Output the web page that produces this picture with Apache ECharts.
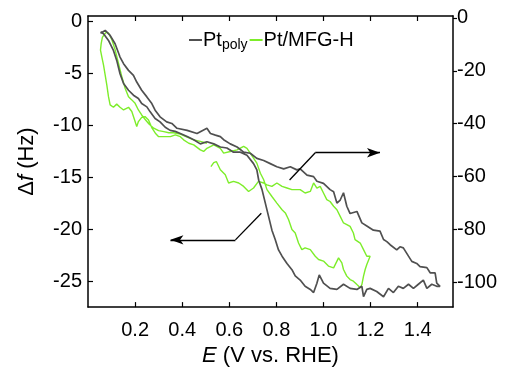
<!DOCTYPE html>
<html>
<head>
<meta charset="utf-8">
<script src="https://cdn.jsdelivr.net/npm/echarts@6/dist/echarts.min.js"></script>
<style>
html,body{margin:0;padding:0;background:#fff;}
#c{width:506px;height:372px;}
</style>
</head>
<body>
<div id="c"></div>
<script>
// ---- Data (E in V vs. RHE) ----
// Pt_poly, Δf in Hz (left axis)
const ptPolyAnodic = [[0.053,-1.15],[0.073,-0.89],[0.094,-1.37],[0.115,-2.17],[0.136,-3.45],[0.151,-4.09],[0.172,-4.73],[0.193,-5.21],[0.207,-5.85],[0.228,-6.64],[0.250,-7.28],[0.271,-7.92],[0.285,-8.56],[0.306,-9.20],[0.334,-9.68],[0.356,-9.84],[0.378,-10.3],[0.421,-10.5],[0.463,-10.8],[0.505,-10.3],[0.520,-10.8],[0.541,-10.96],[0.562,-11.1],[0.576,-11.4],[0.604,-11.8],[0.633,-12.1],[0.661,-12.6],[0.689,-12.7],[0.717,-13.2],[0.746,-13.4],[0.774,-13.7],[0.802,-14.0],[0.831,-14.2],[0.859,-14.0],[0.887,-14.3],[0.901,-14.2],[0.930,-14.8],[0.958,-14.95],[0.972,-15.4],[1.000,-15.6],[1.028,-16.2],[1.043,-16.4],[1.057,-17.5],[1.071,-17.2],[1.085,-16.5],[1.099,-17.8],[1.113,-18.5],[1.142,-18.3],[1.163,-19.4],[1.184,-19.7],[1.212,-20.1],[1.240,-20.2],[1.255,-21.0],[1.269,-21.2],[1.283,-21.5],[1.311,-22.0],[1.325,-21.7],[1.339,-21.8],[1.361,-22.6],[1.375,-23.1],[1.396,-23.3],[1.410,-23.6],[1.439,-23.7],[1.453,-24.2],[1.474,-24.2],[1.481,-25.2],[1.495,-25.5]];
const ptPolyCathodic = [[1.495,-25.5],[1.481,-25.5],[1.460,-25.3],[1.439,-25.7],[1.424,-24.9],[1.403,-25.3],[1.382,-25.7],[1.361,-25.3],[1.339,-25.7],[1.318,-25.5],[1.297,-26.1],[1.276,-25.7],[1.255,-26.5],[1.226,-26.0],[1.198,-25.7],[1.184,-25.8],[1.170,-26.5],[1.163,-25.5],[1.142,-25.8],[1.113,-25.7],[1.085,-25.3],[1.057,-25.8],[1.028,-25.7],[1.000,-25.2],[0.982,-24.4],[0.972,-25.2],[0.958,-26.1],[0.944,-25.8],[0.922,-25.5],[0.901,-24.9],[0.880,-24.5],[0.866,-23.9],[0.845,-23.3],[0.824,-22.6],[0.809,-22.0],[0.795,-21.0],[0.781,-20.1],[0.767,-18.8],[0.753,-17.5],[0.739,-16.2],[0.725,-15.3],[0.717,-14.3],[0.703,-13.7],[0.675,-12.9],[0.647,-12.6],[0.618,-12.6],[0.590,-12.2],[0.562,-12.1],[0.534,-11.8],[0.505,-11.6],[0.477,-11.8],[0.449,-11.4],[0.421,-11.1],[0.392,-10.8],[0.370,-10.6],[0.349,-10.5],[0.328,-10.2],[0.306,-9.68],[0.285,-9.36],[0.264,-8.72],[0.250,-8.24],[0.228,-7.92],[0.214,-7.44],[0.193,-7.12],[0.172,-6.64],[0.151,-6.00],[0.136,-5.05],[0.122,-3.77],[0.108,-2.81],[0.087,-1.85],[0.066,-1.21],[0.053,-1.05]];
// Pt/MFG-H, Δf in Hz (right axis)
const mfgFirstAnodic = [[0.522,-56.2],[0.534,-54.7],[0.545,-54.3],[0.562,-57.4],[0.583,-59.3],[0.597,-62.4],[0.618,-61.8],[0.640,-62.4],[0.661,-63.7],[0.682,-65.6],[0.703,-64.3],[0.724,-61.8],[0.746,-62.4],[0.760,-63.1],[0.781,-63.7],[0.802,-62.4],[0.824,-63.7],[0.845,-64.3],[0.866,-64.9],[0.901,-64.9],[0.922,-66.2],[0.944,-65.6],[0.958,-62.4],[0.972,-64.3],[0.986,-63.7],[1.000,-66.2],[1.014,-68.7],[1.028,-69.4],[1.043,-71.2],[1.057,-72.5],[1.071,-75.0],[1.085,-77.5],[1.099,-78.1],[1.113,-78.8],[1.127,-81.3],[1.134,-83.8],[1.156,-85.1],[1.170,-87.6],[1.184,-90.1],[1.198,-90.1]];
const mfgCathodic = [[1.198,-90.1],[1.191,-90.7],[1.184,-93.2],[1.177,-95.1],[1.170,-97.6],[1.163,-100.8],[1.156,-102.0],[1.142,-100.8],[1.127,-99.5],[1.113,-98.9],[1.099,-97.6],[1.085,-95.1],[1.078,-92.6],[1.064,-90.7],[1.057,-91.3],[1.043,-94.5],[1.021,-93.8],[1.000,-91.9],[0.979,-91.3],[0.965,-90.1],[0.944,-87.6],[0.922,-86.9],[0.908,-87.6],[0.894,-85.1],[0.880,-81.3],[0.866,-80.0],[0.852,-76.3],[0.838,-73.7],[0.824,-72.5],[0.802,-70.0],[0.781,-67.5],[0.760,-64.9],[0.746,-61.2],[0.732,-58.7],[0.717,-54.9],[0.703,-53.0],[0.689,-51.1],[0.675,-49.3],[0.661,-48.6],[0.633,-49.9],[0.604,-50.5],[0.576,-51.1],[0.562,-49.3],[0.534,-48.0],[0.505,-49.3],[0.491,-50.5],[0.477,-49.9],[0.449,-48.0],[0.428,-47.4],[0.406,-46.1],[0.392,-44.9],[0.371,-44.2],[0.350,-44.9],[0.322,-44.9],[0.300,-44.9],[0.286,-43.6],[0.272,-41.7],[0.257,-38.6],[0.242,-37.3],[0.228,-37.6],[0.214,-39.2],[0.207,-41.1],[0.200,-39.2],[0.186,-35.4],[0.172,-33.8],[0.151,-34.8],[0.136,-33.8],[0.122,-32.6],[0.108,-33.8],[0.094,-32.9],[0.087,-29.8],[0.080,-25.4],[0.073,-21.6],[0.066,-17.9],[0.060,-15.3],[0.053,-12.2]];
const mfgSecondAnodic = [[0.053,-12.2],[0.056,-9.7],[0.061,-7.4],[0.070,-6.2],[0.078,-5.4],[0.088,-5.9],[0.101,-8.2],[0.115,-12.0],[0.129,-17.0],[0.143,-22.0],[0.158,-26.7],[0.172,-29.8],[0.186,-31.0],[0.200,-32.3],[0.214,-34.8],[0.228,-36.7],[0.242,-38.3],[0.259,-40.1],[0.279,-41.7],[0.300,-42.6],[0.322,-43.0],[0.343,-43.4],[0.364,-43.4],[0.392,-43.9],[0.421,-45.1],[0.449,-46.1],[0.477,-46.7],[0.505,-47.4]];

// Axis ticks
const xTicks = [0.2,0.4,0.6,0.8,1.0,1.2,1.4];
const leftTicks = [0,-5,-10,-15,-20,-25];
const rightTicks = [0,-20,-40,-60,-80,-100];

// Arrows (E, Δf on left axis)
const arrowLeft = [[0.736,-18.47],[0.626,-21.03],[0.350,-21.03]];
const arrowRight = [[0.856,-15.27],[0.965,-12.65],[1.240,-12.65]];

const ptPoly = ptPolyAnodic.concat(ptPolyCathodic.slice(1));
const mfg = mfgFirstAnodic.concat(mfgCathodic.slice(1), mfgSecondAnodic.slice(1));

const GRAY = '#505050', GREEN = '#7ded2a';
const FONT = '"Liberation Sans", Arial, sans-serif';

function arrowLines(pts){
  const n = pts.length;
  const out = [];
  for (let i=0;i<n-1;i++){
    out.push([
      {coord: pts[i], symbol:'none'},
      {coord: pts[i+1], symbol: i===n-2 ? 'arrow' : 'none', symbolSize: i===n-2 ? [7,13] : 0}
    ]);
  }
  return out;
}

const chart = echarts.init(document.getElementById('c'), null, {renderer:'canvas'});
const axisLineStyle = {color:'#000', width:1.5};
chart.setOption({
  animation:false,
  textStyle:{fontFamily:FONT},
  grid:{left:88, right:53, top:16, bottom:64, containLabel:false},
  legend:{
    left:184, top:25, itemGap:2, itemWidth:13, itemHeight:2,
    data:[{name:'Pt_poly', icon:'rect'},{name:'Pt/MFG-H', icon:'rect'}],
    formatter: n => n==='Pt_poly' ? '{m|Pt}{s|poly}' : '{m|Pt/MFG-H}',
    textStyle:{fontFamily:FONT, color:'#000', padding:[0,0,0,-4],
      rich:{m:{fontSize:20, fontFamily:FONT, color:'#000'}, s:{fontSize:14, fontFamily:FONT, color:'#000', padding:[10,0,0,0]}}}
  },
  xAxis:[{
    type:'value', min:0, max:1.55, position:'bottom',
    name:'{i|E} (V vs. RHE)', nameLocation:'middle', nameGap:27,
    nameTextStyle:{fontSize:22, fontFamily:FONT, color:'#000', rich:{i:{fontSize:22, fontStyle:'italic', fontFamily:FONT, color:'#000'}}},
    axisLine:{show:true, onZero:false, lineStyle:axisLineStyle},
    axisTick:{show:true, inside:true, length:5, customValues:xTicks, lineStyle:{color:'#000', width:1.2}},
    axisLabel:{show:true, customValues:xTicks, fontSize:20, color:'#000', margin:13, fontFamily:FONT, formatter:v=>v.toFixed(1)},
    splitLine:{show:false}
  },{
    type:'value', min:0, max:1.55, position:'top',
    axisLine:{show:true, onZero:false, lineStyle:axisLineStyle},
    axisTick:{show:true, inside:true, length:5, customValues:xTicks, lineStyle:{color:'#000', width:1.2}},
    axisLabel:{show:false}, splitLine:{show:false}
  }],
  yAxis:[{
    type:'value', min:-27.5, max:0.5, position:'left',
    name:'{d|Δ}{i|f} (Hz)', nameLocation:'middle', nameGap:50, nameRotate:90,
    nameTextStyle:{fontSize:22, fontFamily:FONT, color:'#000', rich:{d:{fontSize:22, fontFamily:FONT, color:'#000'}, i:{fontSize:22, fontStyle:'italic', fontFamily:FONT, color:'#000'}}},
    axisLine:{show:true, onZero:false, lineStyle:axisLineStyle},
    axisTick:{show:true, inside:true, length:5, customValues:leftTicks, lineStyle:{color:'#000', width:1.2}},
    axisLabel:{show:true, customValues:leftTicks, fontSize:20, color:'#000', margin:6, fontFamily:FONT},
    splitLine:{show:false}
  },{
    type:'value', min:-109.3, max:0.7, position:'right',
    axisLine:{show:true, onZero:false, lineStyle:axisLineStyle},
    axisTick:{show:true, inside:false, length:4, customValues:rightTicks, lineStyle:{color:'#000', width:1.2}},
    axisLabel:{show:true, customValues:rightTicks, fontSize:20, color:'#000', margin:4, fontFamily:FONT},
    splitLine:{show:false}
  }],
  series:[{
    name:'Pt_poly', type:'line', xAxisIndex:0, yAxisIndex:0, data:ptPoly,
    showSymbol:false, symbol:'none', lineStyle:{color:GRAY, width:1.7}, itemStyle:{color:GRAY}, z:3
  },{
    name:'Pt/MFG-H', type:'line', xAxisIndex:0, yAxisIndex:1, data:mfg,
    showSymbol:false, symbol:'none', lineStyle:{color:GREEN, width:1.4}, itemStyle:{color:GREEN}, z:2
  },{
    name:'arrows', type:'line', xAxisIndex:0, yAxisIndex:0, data:[], silent:true,
    markLine:{
      silent:true, animation:false,
      label:{show:false},
      lineStyle:{color:'#000', width:1.3, type:'solid'},
      emphasis:{disabled:true},
      data: arrowLines(arrowLeft).concat(arrowLines(arrowRight))
    }
  }]
});
</script>
</body>
</html>
